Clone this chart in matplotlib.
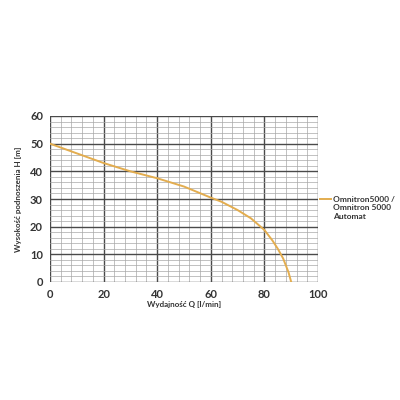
import numpy as np
import matplotlib
matplotlib.use("Agg")
import matplotlib.pyplot as plt
from matplotlib.ticker import MultipleLocator

# pump curve Q [l/min] -> H [m]
flow_q = [0, 10, 20, 30, 40, 50, 60, 64, 70, 75, 80, 83, 85, 87, 89, 90]
head_h = [50, 46.5, 43, 40, 37.5, 34.5, 30.5, 29, 26, 23, 18.8, 15, 12, 8.5, 3.5, 0]
series_label = ["Omnitron5000 /", "Omnitron 5000", "Automat"]

plt.rcParams["font.family"] = ["Lato", "DejaVu Sans"]
TXT = "#333333"

fig = plt.figure(figsize=(4, 4), dpi=100, facecolor="white")
ax = fig.add_axes([0.125, 0.295, 0.67, 0.415])

ax.plot(flow_q, head_h, color="#e3ad4f", lw=1.4, label=series_label[0], zorder=3)

ax.set_xlim(0, 100)
ax.set_ylim(0, 60)
ax.xaxis.set_major_locator(MultipleLocator(20))
ax.xaxis.set_minor_locator(MultipleLocator(4))
ax.yaxis.set_major_locator(MultipleLocator(10))
ax.yaxis.set_minor_locator(MultipleLocator(2))
ax.grid(which="major", color="#4a4a4a", lw=1.0)
ax.grid(which="minor", color="#a8a8a8", lw=0.5)
ax.set_axisbelow(True)
for s in ax.spines.values():
    s.set_visible(False)
ax.tick_params(which="both", length=0, labelsize=8, colors=TXT, pad=5)
for lab in ax.get_xticklabels() + ax.get_yticklabels():
    lab.set_fontweight("bold")

ax.set_xlabel("Wydajność Q [l/min]", fontsize=5.8, fontweight="bold", color=TXT, labelpad=1)
ax.set_ylabel("Wysokość podnoszenia H [m]", fontsize=5.8, fontweight="bold", color=TXT, labelpad=6)

leg = ax.legend(loc="center left", bbox_to_anchor=(1.0, 0.5), frameon=False,
                handlelength=1.3, handletextpad=0.3, borderpad=0, borderaxespad=0.2,
                prop={"weight": "bold", "size": 6})
for t in leg.get_texts():
    t.set_color(TXT)

# remaining lines of the legend label, under the first one
fig.canvas.draw()
bb = leg.get_texts()[0].get_window_extent().transformed(fig.transFigure.inverted())
fig.text(bb.x0, bb.y0 - 0.004, "\n".join(series_label[1:]), ha="left", va="top",
         fontsize=6, fontweight="bold", color=TXT, linespacing=1.25)

fig.savefig("out.png", dpi=100, facecolor="white")
